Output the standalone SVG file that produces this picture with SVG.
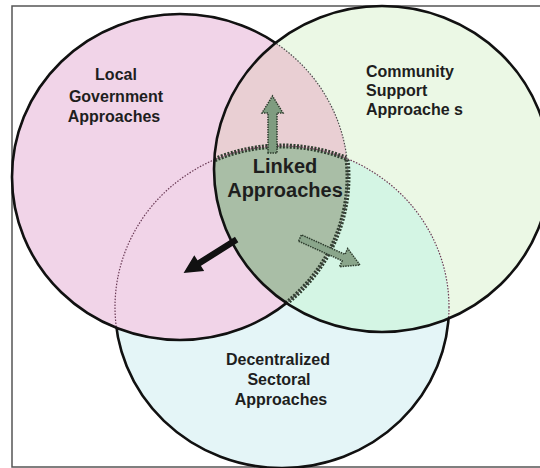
<svg xmlns="http://www.w3.org/2000/svg" width="540" height="468" viewBox="0 0 540 468">
<style>
.lbl{font-family:"Liberation Sans",Arial,sans-serif;font-weight:bold;font-size:16px;fill:#1e1e1e}
.big{font-size:20px}
.solid{fill:none;stroke:#111;stroke-width:2.6}
.thin{fill:none;stroke-width:1.2;stroke-dasharray:1.5 1.5}
.thick{fill:none;stroke:#2e3d2e;stroke-width:5;stroke-dasharray:2 1.5}
</style>
<defs>
<ellipse id="P" cx="180" cy="177" rx="168" ry="163"/>
<ellipse id="G" cx="382" cy="169" rx="168" ry="163"/>
<ellipse id="B" cx="282" cy="307" rx="167" ry="161"/>
<clipPath id="cpP"><use href="#P"/></clipPath>
<clipPath id="cpG"><use href="#G"/></clipPath>
<clipPath id="cpB"><use href="#B"/></clipPath>
<mask id="mOutG" maskUnits="userSpaceOnUse" x="0" y="0" width="540" height="468">
<rect width="540" height="468" fill="#fff"/>
<use href="#G" fill="#000"/>
</mask>
<mask id="mOutPG" maskUnits="userSpaceOnUse" x="0" y="0" width="540" height="468">
<rect width="540" height="468" fill="#fff"/>
<use href="#G" fill="#000"/>
<use href="#P" fill="#000"/>
</mask>
</defs>
<rect x="0" y="0" width="540" height="468" fill="#fff"/>
<rect x="12" y="6" width="540" height="461" fill="#fff" stroke="#555" stroke-width="1.5"/>

<g id="fills">
<use href="#B" fill="#e4f5f7"/>
<use href="#G" fill="#ebf8e5"/>
<use href="#G" fill="#d4f5e4" clip-path="url(#cpB)"/>
<use href="#P" fill="#f1d4e8"/>
<use href="#P" fill="#e9cfd3" clip-path="url(#cpG)"/>
</g>

<g id="linked">
<g clip-path="url(#cpG)"><use href="#P" fill="#a9bea6" clip-path="url(#cpB)"/></g>
<g clip-path="url(#cpG)">
<g clip-path="url(#cpP)"><use href="#B" class="thick"/></g>
<g clip-path="url(#cpB)"><use href="#P" class="thick"/></g>
</g>
<text class="lbl big" x="285" y="173" text-anchor="middle">Linked</text>
<text class="lbl big" x="285" y="197" text-anchor="middle">Approaches</text>
</g>

<g id="decentralized">
<use href="#B" class="thin" stroke="#6a3a55"/>
<use href="#B" class="solid" mask="url(#mOutPG)"/>
<text class="lbl" x="278" y="365" text-anchor="middle">Decentralized</text>
<text class="lbl" x="279" y="385" text-anchor="middle">Sectoral</text>
<text class="lbl" x="281" y="405" text-anchor="middle">Approaches</text>
</g>

<g id="local">
<use href="#P" class="thin" stroke="#4a4a4a"/>
<use href="#P" class="solid" mask="url(#mOutG)"/>
<text class="lbl" x="116" y="80" text-anchor="middle">Local</text>
<text class="lbl" x="116" y="101.5" text-anchor="middle">Government</text>
<text class="lbl" x="114" y="122" text-anchor="middle">Approaches</text>
</g>

<g id="community">
<use href="#G" class="solid"/>
<text class="lbl" x="366" y="76.5">Community</text>
<text class="lbl" x="366" y="95.5">Support</text>
<text class="lbl" x="366" y="115">Approache s</text>
</g>

<g id="connectors">
<polygon points="268,153 268,113 262,113 272.5,96 283,113 277,113 277,153" fill="#7f9c80" stroke="#2e3d2e" stroke-width="1.5" stroke-dasharray="1.5 1"/>
<polygon points="234.7,237.9 197.3,261.4 194.3,256.7 185,272 202.9,270.3 199.9,265.6 237.3,242.1" fill="#111" stroke="#111" stroke-width="1.5"/>
<polygon points="298.6,241.2 342.2,260.8 339.5,266.7 360,265 347.7,248.5 345,254.4 301.4,234.8" fill="#8aa68b" stroke="#2e3d2e" stroke-width="1.5" stroke-dasharray="1.5 1"/>
</g>
</svg>
